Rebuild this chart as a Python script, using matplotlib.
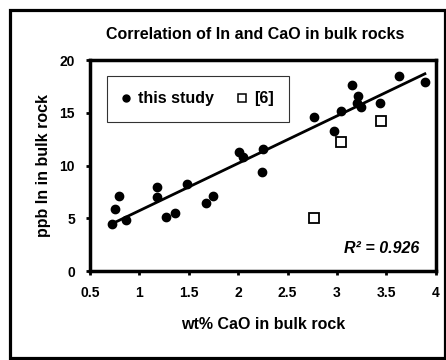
import numpy as np
import matplotlib
matplotlib.use('Agg')
import matplotlib.pyplot as plt
from matplotlib.patches import Rectangle

plt.rcParams['font.family'] = ['Liberation Sans', 'DejaVu Sans']
plt.rcParams['font.weight'] = 'bold'

# this study: wt% CaO vs ppb In
cao_study = [0.72, 0.75, 0.79, 0.86, 1.18, 1.18, 1.27, 1.36, 1.48, 1.67, 1.74,
             2.01, 2.05, 2.24, 2.25, 2.77, 2.97, 3.04, 3.15, 3.21, 3.20, 3.24,
             3.44, 3.63, 3.89]
in_study = [4.45, 5.93, 7.14, 4.83, 7.94, 6.98, 5.14, 5.49, 8.25, 6.5, 7.11,
            11.27, 10.8, 9.43, 11.6, 14.6, 13.24, 15.17, 17.6, 16.6, 15.9, 15.6,
            15.9, 18.5, 17.9]

# reference [6]
cao_ref = [2.77, 3.04, 3.45]
in_ref = [5.0, 12.2, 14.2]

r2_label = 'R² = 0.926'

fig = plt.figure(figsize=(4.46, 3.6), dpi=100)
ax = fig.add_axes([0.202, 0.247, 0.775, 0.586])

# regression line through the study points
k, b = np.polyfit(cao_study, in_study, 1)
xf = np.array([min(cao_study), max(cao_study)])
ax.plot(xf, k * xf + b, color='black', linewidth=2, zorder=2)

ax.plot(cao_study, in_study, 'o', color='black', markersize=6, label='this study', zorder=3)
ax.plot(cao_ref, in_ref, 's', markerfacecolor='white', markeredgecolor='black',
        markeredgewidth=1.3, markersize=7.7, label='[6]', zorder=3)

ax.set_xlim(0.5, 4)
ax.set_ylim(0, 20)
ax.set_xticks([0.5, 1, 1.5, 2, 2.5, 3, 3.5, 4])
ax.set_xticklabels(['0.5', '1', '1.5', '2', '2.5', '3', '3.5', '4'])
ax.set_yticks([0, 5, 10, 15, 20])
for s in ax.spines.values():
    s.set_linewidth(2.5)
ax.tick_params(direction='out', length=3, width=2, labelsize=10, pad=8)

ax.set_title('Correlation of In and CaO in bulk rocks', fontsize=11.5, fontweight='bold',
             pad=15, x=0.477)
ax.set_xlabel('wt% CaO in bulk rock', fontsize=11.5, fontweight='bold', labelpad=12)
ax.set_ylabel('ppb In in bulk rock', fontsize=11.5, fontweight='bold', labelpad=6)

ax.text(0.951, 0.105, r2_label, transform=ax.transAxes, ha='right', va='center',
        fontsize=11.5, fontweight='bold', fontstyle='italic')

leg = ax.legend(loc='upper left', bbox_to_anchor=(0.049, 0.924), ncol=2,
                frameon=True, fancybox=False, edgecolor='black', borderpad=0.95,
                borderaxespad=0, handletextpad=0.5, columnspacing=1.5,
                handlelength=0.5, prop={'weight': 'bold', 'size': 11.5})
leg.get_frame().set_linewidth(0.8)
leg.legend_handles[0].set_markersize(5)
leg.legend_handles[1].set_markersize(5.5)
leg.legend_handles[1].set_markeredgewidth(1.1)

# outer border
fig.patches.append(Rectangle((0.022, 0.006), 0.976, 0.966, transform=fig.transFigure,
                             fill=False, edgecolor='black', linewidth=2.3))

fig.savefig('out.png', dpi=100)
